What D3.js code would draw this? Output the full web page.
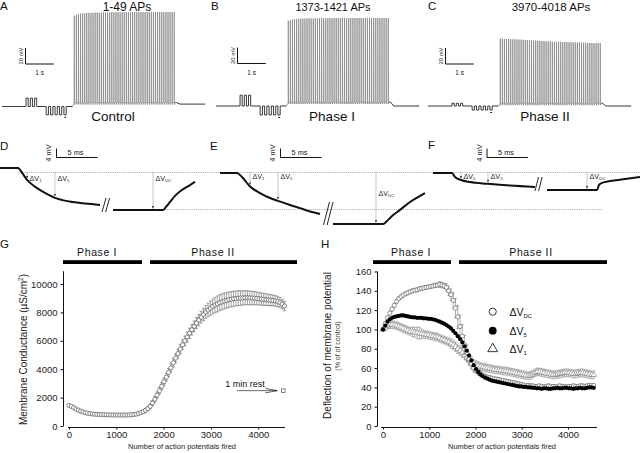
<!DOCTYPE html>
<html><head><meta charset="utf-8">
<script src="https://cdn.jsdelivr.net/npm/d3@7"></script>
<style>body{margin:0;background:#fff}svg{display:block}</style>
</head><body><svg id="c" width="640" height="453"></svg>
<script>
// ---------------- DATA ----------------
const panelLetters = ["A","B","C","D","E","F","G","H"];
const trainTitles = ["1-49 APs","1373-1421 APs","3970-4018 APs"];
const trainPhases = ["Control","Phase I","Phase II"];
// spike peak amplitudes (mV above rest), 49 APs per train
const spikePeaksA = [113.5,114.5,115.5,116,116.5,116.5,117,117,117,117,117.5,117.5,117,117.5,117.5,117.5,117.5,117.5,118,117.5,118,118,117.5,118,118,118,118,118,118,118,118,118,118,118,118,118,118,118,118,118,118,118,118,118,118,118,118,118,118];
const spikePeaksB = [106.5,107.5,108,108.5,108.8,109,109,109.2,109.3,109.4,109.5,109.5,109.5,109.6,109.6,109.6,109.7,109.7,109.7,109.8,109.8,109.8,109.8,109.9,109.9,109.9,110,110,110,110,110,110,110,110,110,110,110,110,110,110,110,110,110,110,110,110,110,110,110];
const spikePeaksC = [84.5,84,83.8,83.7,83.6,83.5,83.4,83.3,83.3,83.1,82.9,82.8,82.6,82.4,82.3,82.1,81.9,81.8,81.6,81.4,81.3,81.1,80.9,80.8,80.6,80.5,80.4,80.3,80.2,80.2,80.1,80,79.9,79.8,79.7,79.6,79.5,79.4,79.3,79.2,79.1,79,78.9,78.8,78.7,78.6,78.6,78.5,78.4];
const spikeTrough = [5, 5, 3.5];        // mV depolarisation between spikes
const testPulseUp = [10.5, 13.5, 3.4];  // mV
const testPulseDown = [10.4, 11.2, 5];  // mV
const postTrainLevel = [3, 0, 0];       // mV
// stimulation protocol (s)
const posPulseStart = 0.85, posPulsePeriod = 0.15, posPulseWidth = 0.075, posPulseCount = 3;
const negPulseStart = 1.56, negPulsePeriod = 0.157, negPulseWidth = 0.08, negPulseCount = 5;
const spikeStart = 2.55, spikeInterval = 0.0736, traceDuration = 7.18;

// D-F: hyperpolarising responses [ms, mV]
const onsetD = [[0,0],[2.2,0],[2.7,-2.2],[3.3,-5.3],[4.3,-8.4],[5.5,-11.1],[6.7,-13.3],[8.5,-14.9],[10.4,-15.8],[12.2,-16.4]];
const offsetD = [[0,-18.7],[6.1,-18.7],[6.46,-17.3],[6.95,-15.1],[7.56,-12.4],[8.4,-9.8],[9.4,-7.6],[10,-6.2]];
const onsetE = [[0,0],[2.07,0],[2.68,-1.8],[3.66,-6],[4.88,-8.9],[6.1,-11.1],[7.07,-12.4],[8.54,-14.2],[9.76,-15.6],[10.98,-17.1],[12.2,-18.2]];
const offsetE = [[0,-22.7],[6.1,-22.7],[6.59,-21.3],[7.2,-19.1],[8.17,-16.4],[9.39,-12.9],[10.37,-10.7],[11.22,-8.9]];
const onsetF = [[0,0],[2.32,0],[2.68,-1.8],[3.41,-3.1],[4.51,-4],[6.71,-4.8],[9.39,-5.6],[12.44,-6.2]];
const offsetF = [[0,-7.6],[6.1,-7.6],[6.34,-5.3],[6.71,-4.4],[7.68,-3.6],[9.51,-2.7],[11.34,-1.8]];
const dvTimes = [[3.3,6.7,4.88],[3.66,7.07,5.24],[3.41,6.71,4.88]]; // ΔV1, ΔV5 (onset), ΔVDC (offset), ms

// G & H
const apPerTrain = 49;
const xTicks = [0,1000,2000,3000,4000];
const gYTicks = [0,2000,4000,6000,8000,10000];
const hYTicks = [0,20,40,60,80,100,120,140,160];
const phaseLabels = ["Phase I","Phase II"];
const gCond = [1450,1380,1300,1200,1120,1050,990,940,900,870,850,830,820,810,800,795,790,785,780,780,775,775,770,770,770,775,780,790,810,840,880,940,1010,1100,1220,1380,1620,1880,2170,2480,2800,3120,3440,3770,4100,4450,4780,5100,5420,5720,6000,6270,6530,6780,7020,7250,7460,7660,7850,8020,8170,8300,8420,8520,8600,8680,8740,8800,8850,8890,8930,8960,8980,9000,9010,9020,9030,9030,9020,9010,9000,8980,8960,8940,8920,8900,8880,8860,8840,8810,8770,8700,8580,8450];
const gErr = [80,70,60,55,50,45,40,40,35,35,35,30,30,30,30,30,30,30,30,30,30,30,30,30,30,30,30,35,40,50,60,80,100,120,140,160,180,200,220,240,250,260,270,280,290,300,300,310,320,330,340,350,360,370,380,390,400,420,440,460,480,500,520,540,560,560,560,560,550,540,540,530,520,520,510,500,500,490,480,470,460,450,440,430,420,410,400,390,380,370,360,350,340,330];
const restPoint = [4530, 2490, 90]; // APs, µS/cm², SEM
const restLabel = "1 min rest";
const hDC = [100,106,112,117,121,125,129,132,134,135.5,137,138,139,140,140.5,141,142,142.5,143,143.5,144,144.5,145,145.5,146,146.5,146,145,143.5,140,136,130,122,113,103,93,84,76,69,64,60,57.5,55.5,54,52.5,51.5,50.5,50,49.5,49,48.5,48,47.5,47,46.5,46,45.5,45,44.5,44,43.5,43,42.5,42,42,41.5,41.5,41,41,41.5,41,40.5,41,41.5,41,41,40.5,41,41.5,41,41,40.5,41,41,41.5,41,41,41.5,41.5,41,41.5,42,42,42];
const hDCerr = [1,2,2,2,2,2,2,2,2,2,2,2,2,2,2,2,2,2,2,2,2,2,2,2,2,3,3,3,4,5,6,8,10,12,12,12,10,8,6,5,4,3,3,3,2,2,2,2,2,2,2,2,2,2,2,2,2,2,2,2,2,2,2,2,2,2,2,2,2,2,2,2,2,2,2,2,2,2,2,2,2,2,2,2,2,2,2,2,2,2,2,2,2,2];
const hV5 = [100,104,108,110.5,112,113,113.5,114,114.5,114.5,114,113.5,113,112.5,112.5,112,112,112,111.5,111.5,111,111,110.5,110,109,108,107,106,104.5,103,101,98.5,96,93,90,86.5,82.5,78,73,68,63,59,56,53.5,51.5,50,49,48,47,46.5,46,45.5,45,44.5,44,43.5,43,42.5,42,41.5,41,41,40.5,40.5,40,40,39.5,39.5,39,39,38.5,39,39,38.5,38.5,39,39,39.5,39,39,39.5,39.5,39,39,38.5,39,39,39.5,39,39,39.5,40,40,39.5];
const hV1 = [100,102,104,105,105,104.5,104,103,102,101,100,99,98,97.5,97,96.5,96,95.5,95,94.5,94,93.5,93,92.5,92,91,90,89,88,87,85.5,84,82,80,78,76,73.5,71,68.5,66.5,65,63.5,62.5,61.5,61,60.5,60,59.5,59,58.5,58,58,57.5,57,57,56.5,56,55.5,55,54.5,54,53.5,53,52.5,52,52.5,53.5,55,56,56,55.5,55,54.5,54,53.5,53,53,53.5,54,54.5,55,55,55,54.5,54,54,54.5,55,55,54.5,54,53.5,53,53];
const hV1err = [1,3,3,4,4,4,4,4,4,4,4,4,4,5,5,6,6,5,4,4,4,4,4,4,4,4,4,4,4,4,5,5,5,5,5,5,5,5,5,5,4,4,4,4,4,4,4,4,4,4,4,4,4,4,4,4,4,4,4,4,4,4,4,4,4,4,4,4,4,4,4,4,4,4,4,4,4,4,4,4,4,4,4,4,4,4,4,4,4,4,4,4,4,4];
const legendNames = ["DC","5","1"];

// ---------------- DRAW ----------------
const FONT = 'Arial, "Liberation Sans", Helvetica, sans-serif';
const svg = d3.select("#c").attr("font-family", FONT);
svg.append("rect").attr("width",640).attr("height",453).attr("fill","#fff");
function txt(x,y,s,size,anchor){
  return svg.append("text").attr("x",x).attr("y",y).attr("font-size",size)
    .attr("text-anchor",anchor||"start").attr("fill","#111").text(s);
}

// panel letters
const letterPos = [[0,10],[211,10],[428,10],[0,150],[210,150],[428,149],[0,248],[321,248]];
panelLetters.forEach((l,i)=>txt(letterPos[i][0],letterPos[i][1],l,11.5));

// ---------- A-C ----------
const trainLayout = [
  {x0:2,  y0:106.5, titleX:127, titleSize:12,  phaseX:113, sbX:25.5, sbY:64},
  {x0:216,y0:106,   titleX:333, titleSize:11,  phaseX:332, sbX:237.5,sbY:63.5},
  {x0:428,y0:106,   titleX:551, titleSize:11.5,phaseX:545, sbX:445.5,sbY:64}
];
const pxPerSec = 28.3, pxPerMv = 0.8;
const allPeaks = [spikePeaksA, spikePeaksB, spikePeaksC];
trainLayout.forEach((L,p)=>{
  const xs = d3.scaleLinear().domain([0,1]).range([L.x0, L.x0+pxPerSec]);
  const ys = d3.scaleLinear().domain([0,1]).range([L.y0, L.y0-pxPerMv]);
  const line = d3.line().x(d=>xs(d[0])).y(d=>ys(d[1]));
  const pre = [[0,0]];
  for(let k=0;k<posPulseCount;k++){const t=posPulseStart+k*posPulsePeriod;
    pre.push([t,0],[t,testPulseUp[p]],[t+posPulseWidth,testPulseUp[p]],[t+posPulseWidth,0]);}
  for(let k=0;k<negPulseCount;k++){const t=negPulseStart+k*negPulsePeriod;
    pre.push([t,0],[t,-testPulseDown[p]],[t+negPulseWidth,-testPulseDown[p]],[t+negPulseWidth,0]);}
  pre.push([spikeStart-0.06,0]);
  const tr = spikeTrough[p];
  const train = [[spikeStart-0.06,0],[spikeStart-0.01,tr*0.7]];
  allPeaks[p].forEach((pk,i)=>{const t=spikeStart+i*spikeInterval;
    train.push([t,tr],[t+0.004,pk],[t+0.011,tr-2.5],[t+0.045,tr]);});
  const tEnd = spikeStart+(allPeaks[p].length-1)*spikeInterval;
  const post = [[tEnd+0.045,tr],[tEnd+0.08,tr],[tEnd+0.2,postTrainLevel[p]],[traceDuration,postTrainLevel[p]]];
  svg.append("path").attr("d",line(train)).attr("fill","none").attr("stroke","#858585").attr("stroke-width",0.75);
  svg.append("path").attr("d",line(pre)).attr("fill","none").attr("stroke","#222").attr("stroke-width",0.9);
  svg.append("path").attr("d",line(post)).attr("fill","none").attr("stroke","#222").attr("stroke-width",0.9);
  // timing dash under last negative pulse
  const tl = negPulseStart+(negPulseCount-1)*negPulsePeriod+negPulseWidth;
  svg.append("line").attr("x1",xs(tl)-2).attr("x2",xs(tl)).attr("y1",ys(-testPulseDown[p])+2.5).attr("y2",ys(-testPulseDown[p])+2.5)
    .attr("stroke","#222").attr("stroke-width",1);
  // scale bar
  svg.append("path").attr("d",`M${L.sbX},${L.sbY-20*pxPerMv}V${L.sbY}H${L.sbX+pxPerSec}`)
    .attr("fill","none").attr("stroke","#111").attr("stroke-width",1);
  svg.append("text").attr("transform",`translate(${L.sbX-2.5},${L.sbY-8}) rotate(-90)`)
    .attr("font-size",5.8).attr("text-anchor","middle").attr("fill","#222").text("20 mV");
  txt(L.sbX+pxPerSec/2, 75, "1 s", 6.5, "middle");
  txt(L.titleX, 10.5, trainTitles[p], L.titleSize, "middle");
  txt(L.phaseX, 120.5, trainPhases[p], 13.5, "middle");
});

// ---------- D-F ----------
const pxPerMs = 8.2, pxPerMv2 = 2.25;
const topRefY = 172.5, botRefY = 209.5;
svg.append("line").attr("x1",18).attr("x2",640).attr("y1",topRefY).attr("y2",topRefY)
  .attr("stroke","#666").attr("stroke-width",0.6).attr("stroke-dasharray","1,1.2");
svg.append("line").attr("x1",163).attr("x2",602).attr("y1",botRefY).attr("y2",botRefY)
  .attr("stroke","#666").attr("stroke-width",0.6).attr("stroke-dasharray","1,1.2");
const respLayout = [
  {on:0,  off:113, y0:168, sbX:56.5, labY:[180.5,180.5,180.5], brk:[102,212,106,198]},
  {on:220,off:333, y0:173, sbX:280.5,labY:[179,179,195.5], brk:[323.5,225,329.5,202]},
  {on:433,off:547, y0:173, sbX:487,  labY:[178.5,178.5,178.5], brk:[535,191,538.5,177]}
];
const respData = [[onsetD,offsetD],[onsetE,offsetE],[onsetF,offsetF]];
const dvSubs = ["1","5","DC"];
respLayout.forEach((L,p)=>{
  const ys = d3.scaleLinear().domain([0,1]).range([L.y0, L.y0-pxPerMv2]);
  [L.on, L.off].forEach((x0,s)=>{
    const xs = d3.scaleLinear().domain([0,1]).range([x0, x0+pxPerMs]);
    const arr = respData[p][s];
    svg.append("path").attr("d",d3.line().x(d=>xs(d[0])).y(d=>ys(d[1])).curve(d3.curveMonotoneX)(arr))
      .attr("fill","none").attr("stroke","#111").attr("stroke-width",2);
    const interp = d3.scaleLinear().domain(arr.map(d=>d[0])).range(arr.map(d=>d[1]));
    const times = s===0 ? [dvTimes[p][0],dvTimes[p][1]] : [dvTimes[p][2]];
    times.forEach((t,k)=>{
      const idx = s===0 ? k : 2;
      const x = xs(t), yE = ys(interp(t))-1.2;
      svg.append("line").attr("x1",x).attr("x2",x).attr("y1",topRefY).attr("y2",yE-2)
        .attr("stroke","#444").attr("stroke-width",0.6).attr("stroke-dasharray","1,1");
      svg.append("path").attr("d",`M${x-1.1},${yE-2.8}L${x+1.1},${yE-2.8}L${x},${yE}Z`).attr("fill","#333");
      const t2 = svg.append("text").attr("x",x+2.5).attr("y",L.labY[idx]).attr("font-size",7.2).attr("fill","#222");
      t2.append("tspan").text("ΔV");
      t2.append("tspan").attr("font-size",4.3).attr("dy",1.4).text(dvSubs[idx]);
    });
  });
  const b = L.brk;
  [0,3.6].forEach(o=>svg.append("line").attr("x1",b[0]+o).attr("y1",b[1]).attr("x2",b[2]+o).attr("y2",b[3])
    .attr("stroke","#111").attr("stroke-width",0.9));
  // scale bar
  svg.append("path").attr("d",`M${L.sbX},${157.5-4*pxPerMv2}V157.5H${L.sbX+5*pxPerMs}`)
    .attr("fill","none").attr("stroke","#111").attr("stroke-width",1);
  svg.append("text").attr("transform",`translate(${L.sbX-5.5},153) rotate(-90)`)
    .attr("font-size",7.5).attr("text-anchor","middle").attr("fill","#222").text("4 mV");
  txt(L.sbX+19, 154.5, "5 ms", 7.3, "middle");
});

// ---------- G & H common ----------
function phaseBars(b1, b2, c1, c2){
  [[b1,c1,phaseLabels[0]],[b2,c2,phaseLabels[1]]].forEach(([b,c,l])=>{
    svg.append("rect").attr("x",b[0]).attr("y",260.2).attr("width",b[1]-b[0]).attr("height",3.8).attr("fill","#000");
    txt(c,256,l,10.5,"middle").attr("letter-spacing",0.6);
  });
}
function axes(x, y, yTicks, yAxisX, xLine, xLabel, yTopVal){
  const ya = svg.append("g").attr("transform",`translate(${yAxisX},0)`)
    .call(d3.axisLeft(y).tickValues(yTicks).tickFormat(d3.format("d")).tickSize(3).tickSizeOuter(0).tickPadding(3));
  ya.select(".domain").remove();
  ya.selectAll("text").attr("font-size",9.5).attr("fill","#222").attr("font-family",FONT);
  ya.selectAll("line").attr("stroke","#111");
  svg.append("line").attr("x1",yAxisX).attr("x2",yAxisX).attr("y1",y(0)).attr("y2",y(yTopVal)).attr("stroke","#111");
  const xa = svg.append("g").attr("transform","translate(0,427.5)")
    .call(d3.axisBottom(x).tickValues(xTicks).tickFormat(d3.format("d")).tickSize(2).tickSizeOuter(0).tickPadding(1.5));
  xa.select(".domain").remove();
  xa.selectAll("text").attr("font-size",9.5).attr("fill","#222").attr("font-family",FONT);
  xa.selectAll("line").attr("stroke","#111");
  svg.append("line").attr("x1",xLine[0]).attr("x2",xLine[1]).attr("y1",427.5).attr("y2",427.5).attr("stroke","#111");
  txt(xLabel, 448.5, "Number of action potentials fired", 7.5, "middle").attr("fill","#222");
}
function errBars(x, y, vals, errs, color, cap){
  const g = svg.append("g").attr("stroke",color).attr("stroke-width",0.6);
  vals.forEach((v,i)=>{
    const cx = x(i*apPerTrain), e = errs[i]; if(!e) return;
    const y1 = y(v+e), y2 = y(v-e);
    g.append("line").attr("x1",cx).attr("x2",cx).attr("y1",y1).attr("y2",y2);
    g.append("line").attr("x1",cx-cap).attr("x2",cx+cap).attr("y1",y1).attr("y2",y1);
    g.append("line").attr("x1",cx-cap).attr("x2",cx+cap).attr("y1",y2).attr("y2",y2);
  });
}

// ---------- G ----------
const xG = d3.scaleLinear().domain([0,4000]).range([69,258.2]);
const yG = d3.scaleLinear().domain([0,10000]).range([426,284]);
phaseBars([63,142],[150,297],97,213);
axes(xG, yG, gYTicks, 63.5, [68,285], 182, 10900);
svg.append("text").attr("transform","translate(26.5,349.5) rotate(-90)").attr("font-size",10)
  .attr("text-anchor","middle").attr("fill","#222").html("Membrane Conductance (µS/cm<tspan font-size='6.5' dy='-4'>2</tspan><tspan dy='4'>)</tspan>");
errBars(xG, yG, gCond, gErr, "#666", 1.6);
svg.append("g").selectAll("circle").data(gCond).join("circle")
  .attr("cx",(d,i)=>xG(i*apPerTrain)).attr("cy",d=>yG(d)).attr("r",2.1)
  .attr("fill","#fff").attr("stroke","#555").attr("stroke-width",0.7);
// rest point
{
  const rx = xG(restPoint[0]), ry = yG(restPoint[1]);
  svg.append("line").attr("x1",rx).attr("x2",rx).attr("y1",yG(restPoint[1]+restPoint[2])).attr("y2",yG(restPoint[1]-restPoint[2])).attr("stroke","#666").attr("stroke-width",0.6);
  svg.append("rect").attr("x",rx-1.8).attr("y",ry-1.8).attr("width",3.6).attr("height",3.6).attr("fill","#fff").attr("stroke","#555").attr("stroke-width",0.7);
  txt(245, 386.5, restLabel, 9, "middle");
  svg.append("path").attr("d",`M237,${ry}H${rx-6}M${rx-18},${ry-2.3}L${rx-6},${ry}L${rx-18},${ry+2.3}`)
    .attr("fill","none").attr("stroke","#222").attr("stroke-width",0.7);
}

// ---------- H ----------
const xH = d3.scaleLinear().domain([0,4000]).range([383,568]);
const yH = d3.scaleLinear().domain([0,160]).range([426,271.5]);
phaseBars([373,451],[459,607],411,531);
axes(xH, yH, hYTicks, 377.5, [381,597], 502, 160);
svg.append("text").attr("transform","translate(330.5,345.5) rotate(-90)").attr("font-size",10)
  .attr("text-anchor","middle").attr("fill","#222").text("Deflection of membrane potential");
svg.append("text").attr("transform","translate(339.5,346) rotate(-90)").attr("font-size",7)
  .attr("text-anchor","middle").attr("fill","#444").text("(% of of control)");
const tri = d3.symbol().type(d3.symbolTriangle).size(14);
errBars(xH, yH, hV1, hV1err, "#888", 1.4);
svg.append("g").selectAll("path").data(hV1).join("path")
  .attr("transform",(d,i)=>`translate(${xH(i*apPerTrain)},${yH(d)})`).attr("d",tri)
  .attr("fill","#fff").attr("stroke","#777").attr("stroke-width",0.6);
errBars(xH, yH, hDC, hDCerr, "#777", 1.4);
svg.append("g").selectAll("circle").data(hDC).join("circle")
  .attr("cx",(d,i)=>xH(i*apPerTrain)).attr("cy",d=>yH(d)).attr("r",2.1)
  .attr("fill","#fff").attr("stroke","#666").attr("stroke-width",0.7);
svg.append("g").selectAll("circle").data(hV5).join("circle")
  .attr("cx",(d,i)=>xH(i*apPerTrain)).attr("cy",d=>yH(d)).attr("r",2.1).attr("fill","#000");
// legend
const legY = [311.7,330.7,348.8];
svg.append("circle").attr("cx",492.7).attr("cy",legY[0]).attr("r",3.6).attr("fill","#fff").attr("stroke","#222").attr("stroke-width",0.9);
svg.append("circle").attr("cx",492.7).attr("cy",legY[1]).attr("r",3.9).attr("fill","#000");
svg.append("path").attr("transform",`translate(492.7,${legY[2]})`).attr("d",d3.symbol().type(d3.symbolTriangle).size(42))
  .attr("fill","#fff").attr("stroke","#222").attr("stroke-width",0.9);
legendNames.forEach((n,i)=>{
  const t = svg.append("text").attr("x",509.5).attr("y",legY[i]+3.8).attr("font-size",10.5).attr("fill","#111");
  t.append("tspan").text("ΔV");
  t.append("tspan").attr("font-size",6).attr("dy",2.2).text(n);
});
</script></body></html>
